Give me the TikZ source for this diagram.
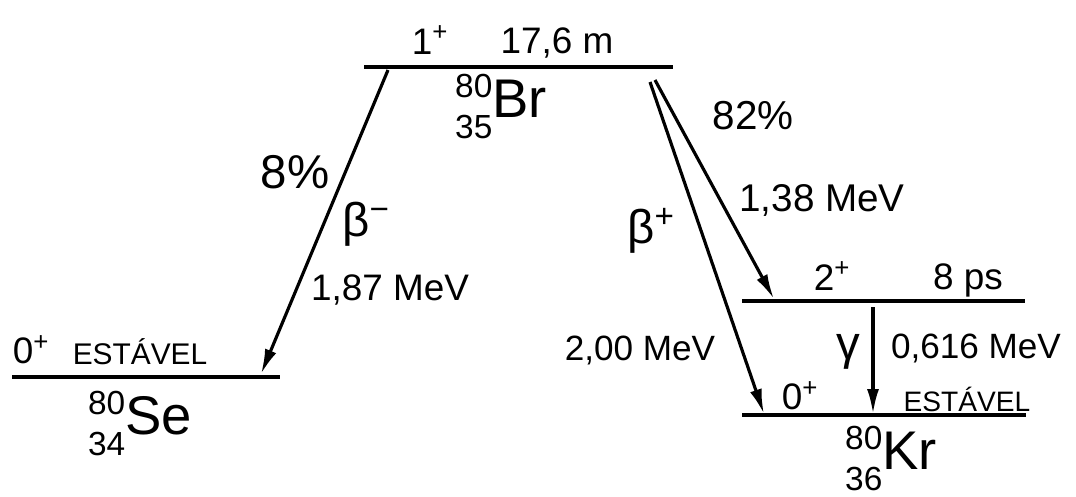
\documentclass[tikz,border=0pt]{standalone}
\usepackage{fontspec}
\setmainfont{Liberation Sans}
\usetikzlibrary{arrows.meta,positioning}
\newcommand{\iso}[3]{{\fontsize{19}{23}\selectfont\begin{tabular}{@{}r@{}}#1\\#2\end{tabular}}{\fontsize{31}{34}\selectfont #3}}

\begin{document}
\begin{tikzpicture}[x=0.02cm,y=-0.02cm,>={Latex[length=5mm,width=2.4mm]}]
  \tikzstyle{lvl}=[line width=2pt]
  \tikzstyle{trans}=[->,line width=1.8pt]
  \tikzstyle{lbl}=[inner sep=1pt,font=\fontsize{21}{24}\selectfont]
  \tikzstyle{big}=[inner sep=1pt,font=\fontsize{27}{30}\selectfont]
  \tikzstyle{small}=[inner sep=1pt,font=\fontsize{17}{19}\selectfont]
  \useasboundingbox (0,0) rectangle (1076,497);

  % niveis
  \coordinate (brL) at (364,67);  \coordinate (brR) at (673,67);
  \coordinate (seL) at (12,377);  \coordinate (seR) at (280,377);
  \coordinate (kr2L) at (742,301); \coordinate (kr2R) at (1025,301);
  \coordinate (kr0L) at (742,415); \coordinate (kr0R) at (1026,415);
  \draw[lvl] (brL) -- (brR);
  \draw[lvl] (seL) -- (seR);
  \draw[lvl] (kr2L) -- (kr2R);
  \draw[lvl] (kr0L) -- (kr0R);

  \node[lbl] (brspin) at (430,40) {1\textsuperscript{+}};
  \node[lbl] (brlife) at (557,43) {17,6 m};
  \node (br) at (501,110) {\iso{80}{35}{Br}};
  \node[lbl] (sespin) at (31,350) {0\textsuperscript{+}};
  \node[small] (sestab) at (140,352) {ESTÁVEL};
  \node (se) at (140,427) {\iso{80}{34}{Se}};
  \node[lbl] (kr2spin) at (832,276) {2\textsuperscript{+}};
  \node[lbl] (kr2life) at (968,280) {8 ps};
  \node[lbl] (kr0spin) at (800,396) {0\textsuperscript{+}};
  \node[small,font=\fontsize{16}{18}\selectfont] (kr0stab) at (967,399) {ESTÁVEL};
  \node (kr) at (891,462) {\iso{80}{36}{Kr}};

  % transicoes
  \coordinate (bmA) at (388,70);  \coordinate (bmB) at (261,374);
  \coordinate (bpA) at (655,80);  \coordinate (bpB) at (774,299);
  \coordinate (bpC) at (650,82);  \coordinate (bpD) at (764,414);
  \coordinate (gA) at (873,307);  \coordinate (gB) at (873,414);
  \draw[trans] (bmA) -- (bmB);
  \draw[trans] (bpA) -- (bpB);
  \draw[trans] (bpC) -- (bpD);
  \draw[trans] (gA) -- (gB);

  \node[big] (bmpct) at (295,172) {8\%};
  \node[big] (bmname) at (366,224) {β\textsuperscript{−}};
  \node[lbl] (bmen) at (390,290) {1,87 MeV};
  \node[lbl,font=\fontsize{23}{26}\selectfont] (bppct) at (753,116) {82\%};
  \node[lbl,font=\fontsize{22}{25}\selectfont] (bpen1) at (822,200) {1,38 MeV};
  \node[big] (bpname) at (651,231) {β\textsuperscript{+}};
  \node[lbl,font=\fontsize{20}{23}\selectfont] (bpen2) at (640,350) {2,00 MeV};
  \node[big] (gname) at (848,352) {γ};
  \node[lbl,font=\fontsize{20}{23}\selectfont] (gen) at (976,348) {0,616 MeV};
\end{tikzpicture}
\end{document}
